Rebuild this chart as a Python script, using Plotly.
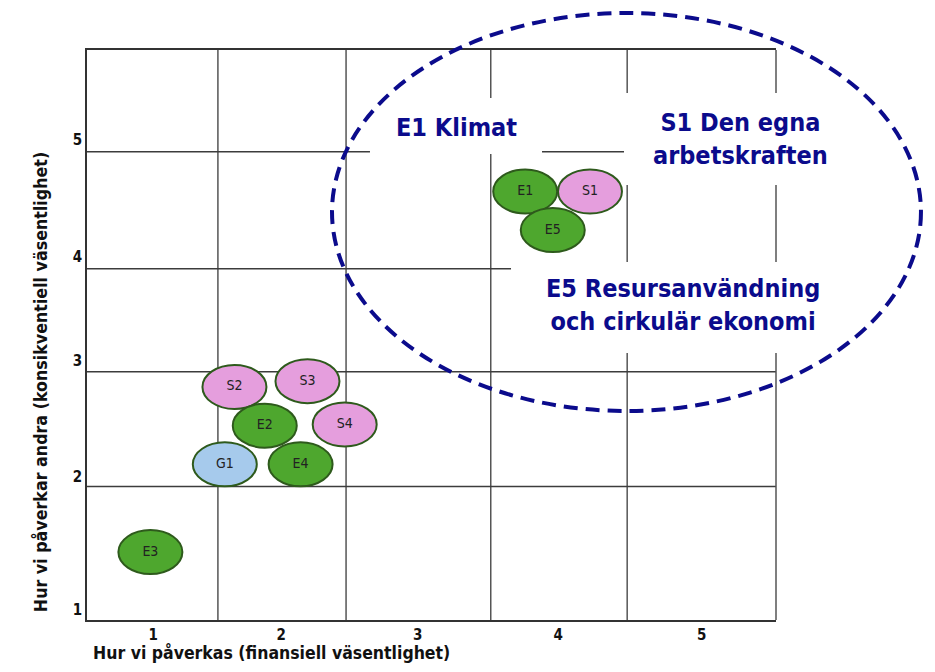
import plotly.graph_objects as go

# ---------------- data ----------------
labels = ["E1", "S1", "E5", "S2", "S3", "E2", "S4", "G1", "E4", "E3"]
x_vals = [3.68, 4.15, 3.88, 1.57, 2.10, 1.79, 2.37, 1.50, 2.05, 0.96]
y_vals = [4.66, 4.66, 4.33, 2.99, 3.04, 2.66, 2.67, 2.33, 2.33, 1.58]
groups = ["E", "S", "E", "S", "S", "E", "S", "G", "E", "E"]

x_tick_vals = [0.98, 1.91, 2.90, 3.92, 4.96]
x_tick_text = ["1", "2", "3", "4", "5"]
y_tick_vals = [1.09, 2.22, 3.21, 4.10, 5.10]
y_tick_text = ["1", "2", "3", "4", "5"]
x_grid = [1.45, 2.38, 3.43, 4.42]
y_grid = [2.14, 3.12, 4.00, 5.00]

group_colors = {"E": "#4EA72E", "S": "#E59EDD", "G": "#A6CAEC"}
navy = "#0B0B8C"
grid_col = "#3C3C3C"
cond = "DejaVu Sans Condensed, DejaVu Sans, sans-serif"

shapes = []
# vertical grid lines
for g in x_grid:
    shapes.append(dict(type="line", xref="x", yref="paper", x0=g, x1=g, y0=0, y1=1,
                       line=dict(color="#555555", width=1.5), layer="below"))
# horizontal grid lines
for g in y_grid:
    shapes.append(dict(type="line", xref="paper", yref="y", x0=0, x1=1, y0=g, y1=g,
                       line=dict(color=grid_col, width=1.5), layer="below"))
# right border
shapes.append(dict(type="line", xref="paper", yref="paper", x0=1, x1=1, y0=0, y1=1,
                   line=dict(color="#555555", width=1.5), layer="below"))
# white boxes behind the callout texts (break the grid lines)
for (bx0, bx1, by0, by1) in [(0.4107, 0.6604, 0.8175, 0.9158),
                             (0.7794, 1.116, 0.7632, 0.9246),
                             (0.6154, 1.116, 0.4684, 0.6280)]:
    shapes.append(dict(type="rect", xref="paper", yref="paper", x0=bx0, x1=bx1, y0=by0, y1=by1,
                       fillcolor="white", line=dict(width=0), layer="below"))
# ellipse markers
for lab, xv, yv, gr in zip(labels, x_vals, y_vals, groups):
    shapes.append(dict(type="circle", xref="x", yref="y", xsizemode="pixel", ysizemode="pixel",
                       xanchor=xv, yanchor=yv, x0=-32, x1=32, y0=-22, y1=22,
                       fillcolor=group_colors[gr], line=dict(color="#2E5A1C", width=2),
                       layer="below"))
# dashed highlight ellipse
shapes.append(dict(type="circle", xref="paper", yref="paper",
                   x0=0.3556, x1=1.2104, y0=0.3667, y1=1.0649,
                   line=dict(color=navy, width=4, dash="14px,8px"), layer="above"))

fig = go.Figure()
fig.add_trace(go.Scatter(x=x_vals, y=y_vals, mode="text", text=labels,
                         textfont=dict(family=cond, size=14, color="#222222"),
                         hoverinfo="skip", showlegend=False, cliponaxis=False))

annotations = [
    dict(text="<b>E1 Klimat</b>", x=0.5356, y=0.8649),
    dict(text="<b>S1 Den egna<br>arbetskraften</b>", x=0.9478, y=0.8439),
    dict(text="<b>E5 Resursanvändning<br>och cirkulär ekonomi</b>", x=0.865, y=0.5526),
]
annots = []
for a in annotations:
    annots.append(dict(text=a["text"], x=a["x"], y=a["y"], xref="paper", yref="paper",
                       xanchor="center", yanchor="middle", showarrow=False, align="center",
                       font=dict(family=cond, size=25, color=navy)))
annots.append(dict(text="<b>Hur vi påverkas (finansiell väsentlighet)</b>", x=0.0073, y=-0.0765,
                   xref="paper", yref="paper", xanchor="left", yanchor="bottom", showarrow=False,
                   borderpad=0, font=dict(family=cond, size=17.5, color="#111111")))
annots.append(dict(text="<b>Hur vi påverkar andra (konsikventiell väsentlighet)</b>", x=-0.068, y=0.4175,
                   xref="paper", yref="paper", xanchor="center", yanchor="middle", showarrow=False,
                   textangle=-90, font=dict(family=cond, size=17.7, color="#111111")))

fig.update_layout(
    width=919, height=656,
    margin=dict(l=79, r=151, t=42, b=44),
    paper_bgcolor="white", plot_bgcolor="white",
    shapes=shapes, annotations=annots, showlegend=False,
    xaxis=dict(range=[0.5, 5.5], showgrid=False, zeroline=False, showline=True, mirror=True,
               linecolor="#333333", linewidth=1.5, tickmode="array", tickvals=x_tick_vals,
               ticktext=x_tick_text, ticks="", fixedrange=True,
               tickfont=dict(family=cond, size=15, color="#111111", weight="bold")),
    yaxis=dict(range=[1, 5.868], showgrid=False, zeroline=False, showline=True, mirror=False,
               linecolor="#333333", linewidth=1.5, tickmode="array", tickvals=y_tick_vals,
               ticktext=y_tick_text, ticks="", fixedrange=True,
               tickfont=dict(family=cond, size=15, color="#111111", weight="bold")),
)

fig.write_html("out.html")
